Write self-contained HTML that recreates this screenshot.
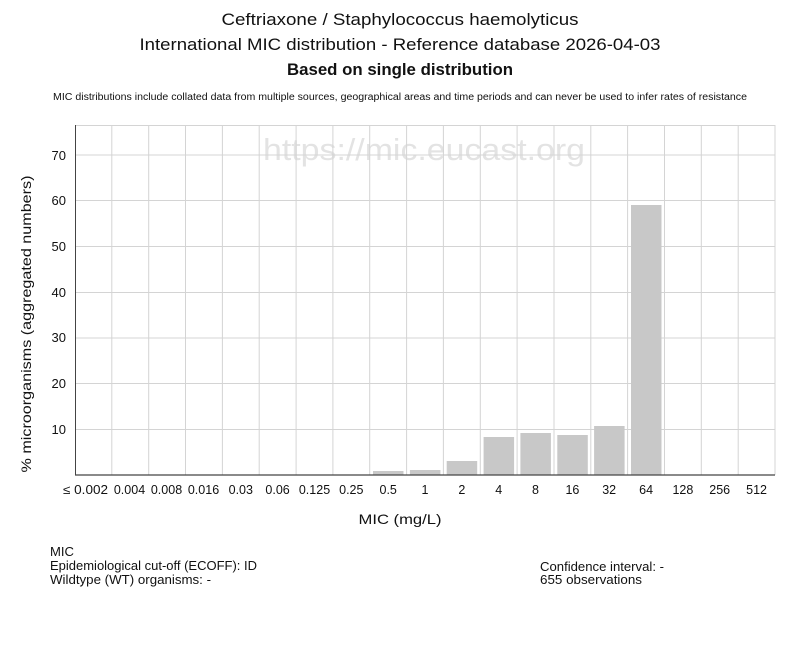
<!DOCTYPE html>
<html><head><meta charset="utf-8"><style>
html,body{margin:0;padding:0;background:#fff;}
svg{display:block;font-family:"Liberation Sans",Arial,sans-serif;}
</style></head><body>
<svg width="800" height="650" viewBox="0 0 800 650" xmlns="http://www.w3.org/2000/svg">
<rect width="800" height="650" fill="#fff"/>
<!-- titles -->
<text x="400" y="25" font-size="17" text-anchor="middle" fill="#111" textLength="357" lengthAdjust="spacingAndGlyphs">Ceftriaxone / Staphylococcus haemolyticus</text>
<text x="400" y="50" font-size="17" text-anchor="middle" fill="#111" textLength="521" lengthAdjust="spacingAndGlyphs">International MIC distribution - Reference database 2026-04-03</text>
<text x="400" y="75" font-size="17" font-weight="bold" text-anchor="middle" fill="#111" textLength="226" lengthAdjust="spacingAndGlyphs">Based on single distribution</text>
<text x="400" y="100" font-size="10" text-anchor="middle" fill="#111" textLength="694" lengthAdjust="spacingAndGlyphs">MIC distributions include collated data from multiple sources, geographical areas and time periods and can never be used to infer rates of resistance</text>
<!-- watermark -->
<text x="424" y="160" font-size="31" text-anchor="middle" fill="#e3e3e3" textLength="322" lengthAdjust="spacingAndGlyphs">https://mic.eucast.org</text>
<!-- grid -->
<g stroke="#d4d4d4" stroke-width="1">
<line x1="75" y1="125.5" x2="775" y2="125.5"/>
<line x1="75" y1="155" x2="775" y2="155"/>
<line x1="75" y1="200.5" x2="775" y2="200.5"/>
<line x1="75" y1="246.5" x2="775" y2="246.5"/>
<line x1="75" y1="292.5" x2="775" y2="292.5"/>
<line x1="75" y1="338" x2="775" y2="338"/>
<line x1="75" y1="383.5" x2="775" y2="383.5"/>
<line x1="75" y1="429.5" x2="775" y2="429.5"/>
<line x1="111.8" y1="125" x2="111.8" y2="475"/>
<line x1="148.7" y1="125" x2="148.7" y2="475"/>
<line x1="185.5" y1="125" x2="185.5" y2="475"/>
<line x1="222.4" y1="125" x2="222.4" y2="475"/>
<line x1="259.2" y1="125" x2="259.2" y2="475"/>
<line x1="296.1" y1="125" x2="296.1" y2="475"/>
<line x1="332.9" y1="125" x2="332.9" y2="475"/>
<line x1="369.7" y1="125" x2="369.7" y2="475"/>
<line x1="406.6" y1="125" x2="406.6" y2="475"/>
<line x1="443.4" y1="125" x2="443.4" y2="475"/>
<line x1="480.3" y1="125" x2="480.3" y2="475"/>
<line x1="517.1" y1="125" x2="517.1" y2="475"/>
<line x1="554" y1="125" x2="554" y2="475"/>
<line x1="590.8" y1="125" x2="590.8" y2="475"/>
<line x1="627.6" y1="125" x2="627.6" y2="475"/>
<line x1="664.5" y1="125" x2="664.5" y2="475"/>
<line x1="701.3" y1="125" x2="701.3" y2="475"/>
<line x1="738.2" y1="125" x2="738.2" y2="475"/>
<line x1="775" y1="125" x2="775" y2="475"/>
</g>
<!-- bars -->
<g fill="#c8c8c8">
<rect x="373" y="471" width="30.5" height="4"/>
<rect x="409.9" y="470" width="30.5" height="5"/>
<rect x="446.7" y="461" width="30.5" height="14"/>
<rect x="483.6" y="437" width="30.5" height="38"/>
<rect x="520.4" y="433" width="30.5" height="42"/>
<rect x="557.3" y="435" width="30.5" height="40"/>
<rect x="594.1" y="426" width="30.5" height="49"/>
<rect x="631" y="205" width="30.5" height="270"/>
</g>
<!-- axes -->
<line x1="75.5" y1="125" x2="75.5" y2="475.5" stroke="#444" stroke-width="1"/>
<line x1="75" y1="475" x2="775" y2="475" stroke="#444" stroke-width="1.2"/>
<!-- y ticks -->
<g font-size="13" text-anchor="end" fill="#111">
<text x="66" y="160">70</text>
<text x="66" y="205">60</text>
<text x="66" y="251">50</text>
<text x="66" y="297">40</text>
<text x="66" y="342">30</text>
<text x="66" y="388">20</text>
<text x="66" y="434">10</text>
</g>
<text transform="translate(31,324) rotate(-90)" font-size="14" text-anchor="middle" fill="#111" textLength="297" lengthAdjust="spacingAndGlyphs">% microorganisms (aggregated numbers)</text>
<!-- x ticks -->
<g font-size="12.5" text-anchor="middle" fill="#111">
<text x="63" y="494" text-anchor="start" textLength="45" lengthAdjust="spacingAndGlyphs">≤ 0.002</text>
<text x="129.5" y="494">0.004</text>
<text x="166.5" y="494">0.008</text>
<text x="203.5" y="494">0.016</text>
<text x="240.8" y="494">0.03</text>
<text x="277.6" y="494">0.06</text>
<text x="314.5" y="494">0.125</text>
<text x="351.3" y="494">0.25</text>
<text x="388.2" y="494">0.5</text>
<text x="425" y="494">1</text>
<text x="461.8" y="494">2</text>
<text x="498.7" y="494">4</text>
<text x="535.5" y="494">8</text>
<text x="572.4" y="494">16</text>
<text x="609.2" y="494">32</text>
<text x="646.1" y="494">64</text>
<text x="682.9" y="494">128</text>
<text x="719.7" y="494">256</text>
<text x="756.6" y="494">512</text>
</g>
<text x="400" y="524" font-size="14" text-anchor="middle" fill="#111" textLength="83" lengthAdjust="spacingAndGlyphs">MIC (mg/L)</text>
<!-- footer -->
<g font-size="12.5" fill="#111">
<text x="50" y="556" textLength="24" lengthAdjust="spacingAndGlyphs">MIC</text>
<text x="50" y="570" textLength="207" lengthAdjust="spacingAndGlyphs">Epidemiological cut-off (ECOFF): ID</text>
<text x="50" y="584" textLength="161" lengthAdjust="spacingAndGlyphs">Wildtype (WT) organisms:  -</text>
<text x="540" y="571" textLength="124" lengthAdjust="spacingAndGlyphs">Confidence interval: -</text>
<text x="540" y="584" textLength="102" lengthAdjust="spacingAndGlyphs">655 observations</text>
</g>
</svg>
</body></html>
